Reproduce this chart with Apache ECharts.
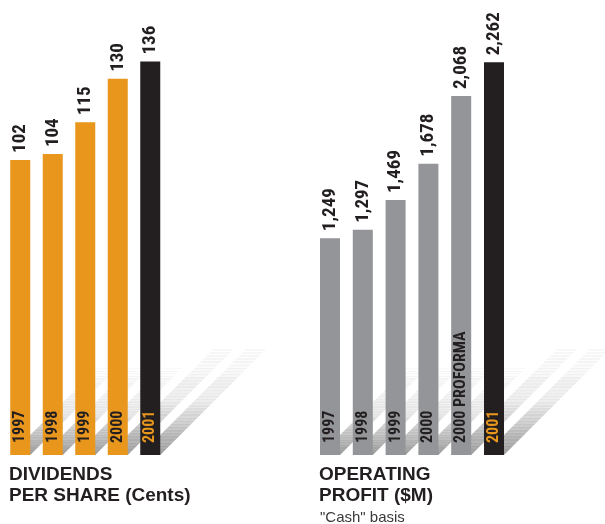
<!DOCTYPE html>
<html>
<head>
<meta charset="utf-8">
<script src="https://cdn.jsdelivr.net/npm/echarts@6/dist/echarts.min.js"></script>
<style>
html,body{margin:0;padding:0;background:#fff;}
#chart{width:605px;height:524px;}
</style>
</head>
<body>
<div id="chart"></div>
<script>
// ---- data ----
const divCategories = ['1997', '1998', '1999', '2000', '2001'];
const divValues = [102, 104, 115, 130, 136];
const profitCategories = ['1997', '1998', '1999', '2000', '2000 PROFORMA', '2001'];
const profitValues = [1249, 1297, 1469, 1678, 2068, 2262];

// ---- styles ----
const ORANGE = '#E8961C';
const BLACK = '#231F20';
const GRAY = '#939598';
const NARROW = "'Roboto Condensed', 'DejaVu Sans Condensed', sans-serif";
const SANS = "'Liberation Sans', Arial, Helvetica, sans-serif";
const BAR_W = 20;

function fmt(v) { return v.toLocaleString('en-US'); }

// softly striped gradient for shadows
function shadowGradient() {
  const stops = [];
  const N = 34;
  const top = [248, 248, 248], mid = [230, 230, 230], bot = [150, 150, 150];
  function col(t) {
    let a, b, u;
    if (t < 0.5) { a = top; b = mid; u = t / 0.5; } else { a = mid; b = bot; u = (t - 0.5) / 0.5; }
    return a.map((c, k) => Math.round(c + (b[k] - c) * u));
  }
  for (let s = 0; s < N; s++) {
    const t0 = s / N, t1 = (s + 0.5) / N, t2 = (s + 1) / N;
    const c = col(t0);
    const l = c.map(x => Math.min(255, x + 7));
    stops.push({ offset: t0, color: 'rgb(' + c.join(',') + ')' });
    stops.push({ offset: t1, color: 'rgb(' + c.join(',') + ')' });
    stops.push({ offset: t1, color: 'rgb(' + l.join(',') + ')' });
    stops.push({ offset: t2 - 0.0001, color: 'rgb(' + l.join(',') + ')' });
  }
  return { type: 'linear', x: 0, y: 0, x2: 0, y2: 1, colorStops: stops };
}

function shadowSeries(idx, n) {
  return {
    type: 'custom',
    xAxisIndex: idx, yAxisIndex: idx,
    z: 1, silent: true,
    data: Array.from({ length: n }, (_, i) => [i, 0]),
    renderItem: function (params, api) {
      const i = api.value(0);
      const p = api.coord([i, 0]);
      const x0 = p[0] - BAR_W / 2, y0 = p[1];
      const h = i >= n - 2 ? 106 : 87;
      return {
        type: 'polygon',
        shape: { points: [[x0, y0], [x0 + BAR_W, y0], [x0 + BAR_W + h, y0 - h], [x0 + h, y0 - h]] },
        style: { fill: shadowGradient() }
      };
    }
  };
}

function valueBars(idx, values, colors) {
  return {
    type: 'bar', xAxisIndex: idx, yAxisIndex: idx, z: 3,
    barWidth: BAR_W, barGap: '-100%',
    data: values.map((v, i) => ({ value: v, itemStyle: { color: colors[i] } })),
    label: {
      show: true, position: 'top', distance: 7, rotate: 90,
      align: 'left', verticalAlign: 'middle',
      fontFamily: NARROW, fontWeight: 'bold', fontSize: 19, color: BLACK,
      formatter: p => fmt(p.value)
    }
  };
}

function yearBars(idx, values, cats, labelColors) {
  return {
    type: 'bar', xAxisIndex: idx, yAxisIndex: idx, z: 4, silent: true,
    barWidth: BAR_W, barGap: '-100%',
    itemStyle: { color: 'rgba(0,0,0,0)' },
    data: values.map((v, i) => ({ value: v, label: { color: labelColors[i] } })),
    label: {
      show: true, position: 'insideBottom', distance: 12, rotate: 90,
      align: 'left', verticalAlign: 'middle',
      fontFamily: NARROW, fontWeight: 'bold', fontSize: 16,
      formatter: p => cats[p.dataIndex]
    }
  };
}

const divColors = divValues.map((v, i) => i === divValues.length - 1 ? BLACK : ORANGE);
const profitColors = profitValues.map((v, i) => i === profitValues.length - 1 ? BLACK : GRAY);
const divLabelColors = divValues.map((v, i) => i === divValues.length - 1 ? ORANGE : BLACK);
const profitLabelColors = profitValues.map((v, i) => i === profitValues.length - 1 ? ORANGE : BLACK);

const chart = echarts.init(document.getElementById('chart'), null, { renderer: 'canvas' });
chart.setOption({
  animation: false,
  backgroundColor: '#ffffff',
  title: [
    { text: 'DIVIDENDS\nPER SHARE (Cents)', left: 9, top: 464, padding: 0,
      textStyle: { fontFamily: SANS, fontWeight: 'bold', fontSize: 19, lineHeight: 21, color: BLACK } },
    { text: 'OPERATING\nPROFIT ($M)', left: 319, top: 464, padding: 0,
      textStyle: { fontFamily: SANS, fontWeight: 'bold', fontSize: 19, lineHeight: 21, color: BLACK } },
    { text: '"Cash" basis', left: 320, top: 510, padding: 0,
      textStyle: { fontFamily: SANS, fontWeight: 'normal', fontSize: 15, lineHeight: 15, color: '#3a3a3a' } }
  ],
  grid: [
    { left: 4, width: 162.5, top: 21, height: 434 },
    { left: 313.6, width: 196.8, top: 21, height: 434 }
  ],
  xAxis: [
    { type: 'category', gridIndex: 0, data: divCategories, show: false },
    { type: 'category', gridIndex: 1, data: profitCategories, show: false }
  ],
  yAxis: [
    { type: 'value', gridIndex: 0, min: 0, max: 150, show: false },
    { type: 'value', gridIndex: 1, min: 0, max: 2500, show: false }
  ],
  series: [
    shadowSeries(0, divValues.length),
    valueBars(0, divValues, divColors),
    yearBars(0, divValues, divCategories, divLabelColors),
    shadowSeries(1, profitValues.length),
    valueBars(1, profitValues, profitColors),
    yearBars(1, profitValues, profitCategories, profitLabelColors)
  ]
});
</script>
</body>
</html>
